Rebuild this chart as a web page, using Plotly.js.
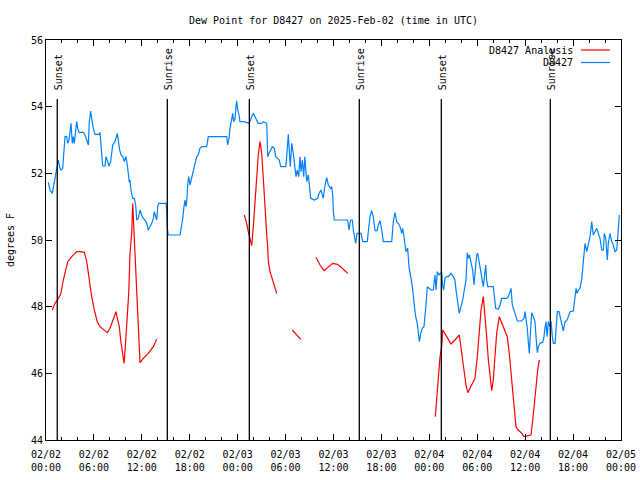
<!DOCTYPE html>
<html>
<head>
<meta charset="utf-8">
<script src="https://cdn.plot.ly/plotly-3.0.1.min.js"></script>
<style>html,body{margin:0;padding:0;background:#fff;}#chart{width:640px;height:480px;}</style>
</head>
<body>
<div id="chart"></div>
<script>
// Hours since 2025-02-02 00:00 UTC
const startUTC = Date.UTC(2025, 1, 2);

// D8427 observations
const obsHours = [0.29,0.50,0.79,1.00,1.13,1.34,1.54,1.75,1.88,2.09,2.25,2.38,2.59,2.72,2.88,3.01,3.13,3.29,3.42,3.54,3.72,3.84,3.97,4.13,4.67,4.88,5.10,5.30,5.42,5.60,5.72,5.92,6.14,6.67,6.76,6.89,6.97,7.10,7.39,7.51,7.73,7.89,8.10,8.23,8.35,8.64,8.77,8.93,9.05,9.18,9.39,9.60,9.80,10.02,10.18,10.31,10.43,10.52,10.64,10.86,11.06,11.23,11.36,11.56,11.77,11.98,12.18,12.40,12.61,12.81,13.02,13.24,13.44,13.56,13.74,13.86,13.99,14.11,15.03,15.11,15.19,15.31,16.78,16.99,17.12,17.28,17.41,17.53,17.62,17.74,17.87,18.03,18.24,18.44,18.66,18.87,19.07,19.28,19.50,20.12,20.32,22.63,22.75,22.92,23.04,23.25,23.38,23.50,23.67,23.79,23.88,24.00,24.17,24.29,24.83,25.33,25.54,25.76,25.96,26.17,26.38,26.58,27.01,27.21,27.64,27.76,27.92,28.09,28.34,28.59,28.76,29.01,29.21,29.39,30.02,30.14,30.27,30.34,30.47,30.59,30.77,30.93,31.05,31.18,31.31,31.47,31.64,31.81,31.93,32.10,32.27,32.40,32.52,32.65,32.85,32.97,33.15,33.60,34.02,34.19,34.44,34.60,34.72,34.94,35.15,35.35,35.65,35.77,35.90,35.98,36.10,37.78,37.94,38.15,38.36,38.48,38.61,38.78,38.94,39.19,39.44,39.66,40.23,40.36,40.57,40.78,40.98,41.20,41.45,41.61,41.82,42.04,42.24,43.29,43.49,43.70,43.91,44.11,44.33,44.54,44.67,44.79,44.95,45.08,45.29,45.45,45.71,45.87,46.12,46.29,46.49,46.62,46.75,46.92,47.12,47.33,47.46,47.58,47.75,47.96,48.17,48.50,48.71,48.84,49.00,49.21,49.38,49.55,49.68,49.80,49.96,50.18,50.38,50.71,51.00,51.21,51.34,51.55,51.75,51.97,52.18,52.38,52.59,52.75,52.88,53.01,53.22,53.43,53.59,53.72,53.93,54.06,54.22,54.43,54.63,54.76,54.88,55.06,55.18,55.31,56.01,56.14,56.31,56.64,56.85,57.06,57.69,57.89,58.11,58.23,58.39,58.64,58.82,59.02,59.57,59.86,59.98,60.11,60.27,60.39,60.52,60.64,60.82,61.02,61.23,61.36,61.52,61.65,61.86,62.20,62.36,62.49,62.61,62.74,62.90,63.08,63.24,63.40,63.53,63.74,63.86,64.03,64.24,64.45,64.65,64.78,64.99,65.20,65.40,65.62,66.03,66.24,66.37,66.49,66.66,66.87,67.08,67.28,67.50,67.71,67.91,68.12,68.25,68.33,68.53,68.75,68.96,69.16,69.37,69.59,69.79,69.91,70.09,70.29,70.41,70.63,70.84,71.04,71.25,71.47,71.67,71.79];
const obsValues = [51.73,51.5,51.4,51.65,51.85,52.15,52.4,52.15,52.1,52.15,52.85,53.1,53.1,52.9,53.0,53.35,53.5,52.9,53.1,52.9,53.35,53.55,53.35,53.23,53.23,53.15,53.0,52.85,53.55,53.87,53.65,53.35,53.17,53.17,53.23,52.85,52.5,52.22,52.22,52.5,52.35,52.22,52.35,52.65,52.85,52.95,53.1,53.2,53.0,52.75,52.55,52.5,52.35,52.5,52.25,51.85,51.73,51.8,51.5,51.25,51.25,51.05,50.6,50.65,50.9,50.75,50.65,50.6,50.5,50.3,50.4,50.5,50.65,50.85,50.7,50.6,51.0,51.1,51.1,50.9,50.35,50.15,50.15,50.4,50.65,51.0,51.2,51.0,51.15,51.65,51.9,51.65,51.85,52.1,52.3,52.5,52.55,52.75,52.8,52.8,53.1,53.1,52.85,53.05,53.35,53.6,53.8,53.55,53.65,54.0,54.17,53.9,53.75,53.55,53.55,53.5,53.55,53.7,53.8,53.7,53.6,53.5,53.5,53.55,53.5,52.5,52.6,52.7,52.8,52.75,52.5,52.45,52.4,52.2,52.2,52.5,52.9,53.17,52.65,52.2,52.9,52.7,52.45,52.15,51.9,52.1,51.9,52.5,52.05,52.4,51.9,52.5,52.15,51.75,51.95,51.55,51.25,51.2,51.25,51.4,51.5,51.35,51.25,51.65,51.87,51.65,51.55,51.6,51.35,50.85,50.6,50.6,50.3,50.6,50.6,50.3,50.1,49.9,50.2,50.2,50.2,49.95,49.95,50.25,50.7,50.88,50.7,50.28,50.28,50.45,50.58,50.3,49.95,49.95,50.55,50.82,50.55,50.5,50.4,50.2,50.35,50.15,49.85,49.65,49.75,49.2,48.85,48.6,48.05,47.7,47.5,47.25,46.95,47.2,47.35,47.4,47.65,48.05,48.6,48.55,48.5,48.5,48.95,48.5,49.05,48.95,49.02,49.05,48.6,48.5,48.85,48.9,48.9,49.0,48.9,48.8,48.5,48.2,47.8,48.0,48.2,48.5,48.8,49.62,49.45,49.55,49.35,49.1,48.65,49.1,49.55,49.6,49.35,49.05,48.85,48.6,48.85,49.25,48.8,48.6,48.6,48.2,47.95,47.92,48.05,48.25,48.25,48.3,48.5,48.55,48.05,47.85,47.7,47.57,47.57,47.65,47.85,47.65,47.35,46.95,46.6,47.15,47.82,47.7,47.55,47.1,46.62,46.8,46.9,46.93,47.1,47.38,47.55,47.1,47.55,47.4,47.57,47.1,46.9,46.9,47.3,47.85,47.85,47.65,47.45,47.27,47.55,47.58,47.7,47.85,47.87,48.2,48.55,48.4,48.5,48.55,48.82,49.35,49.9,49.65,49.85,50.1,50.35,50.55,50.15,50.25,50.35,50.2,50.05,49.7,49.7,50.2,50.05,49.4,49.9,50.2,49.95,49.85,49.65,49.7,50.45,50.75];

// D8427 Analysis (null = gap)
const anaHours = [0.79,1.13,1.54,1.84,2.17,2.47,2.72,3.22,3.84,4.26,4.80,5.10,5.42,5.72,6.05,6.42,6.76,7.18,7.68,8.01,8.43,8.77,8.93,9.18,9.35,9.55,9.77,9.89,10.02,10.18,10.36,10.52,10.73,10.86,11.02,11.18,11.36,11.52,11.77,12.18,12.81,13.44,13.86,
  20.0,
  24.83,25.13,25.33,25.54,25.76,25.96,26.17,26.38,26.58,26.80,27.01,27.21,27.42,27.64,27.76,27.84,28.05,28.46,28.89,
  30.0,
  30.84,31.90,
  33.0,
  33.81,34.31,34.81,35.35,35.90,36.48,36.90,37.32,37.78,
  43.0,
  48.75,48.92,49.12,49.34,49.55,49.68,50.18,50.71,51.21,51.75,52.06,52.34,52.59,52.81,53.22,53.72,54.01,54.26,54.47,54.76,54.97,55.18,55.39,55.60,55.81,56.01,56.22,56.43,56.76,57.06,57.48,57.76,58.01,58.23,58.44,58.64,58.85,59.14,59.57,59.86,60.39,60.73,60.95,61.15,61.36,61.57,61.77];
const anaValues = [47.9,48.1,48.25,48.37,48.8,49.1,49.35,49.5,49.65,49.65,49.63,49.35,48.8,48.3,47.9,47.55,47.4,47.33,47.22,47.35,47.65,47.85,47.65,47.4,47.0,46.65,46.3,46.65,47.2,47.8,48.4,49.6,50.2,51.1,50.2,49.6,48.4,47.2,46.32,46.45,46.6,46.8,47.02,
  null,
  50.75,50.5,50.25,50.05,49.83,50.4,51.15,51.95,52.55,52.95,52.6,51.85,50.85,50.15,49.8,49.35,49.05,48.7,48.4,
  null,
  47.3,47.02,
  null,
  49.48,49.25,49.08,49.2,49.3,49.27,49.2,49.1,49.0,
  null,
  44.7,45.2,45.85,46.5,46.8,47.3,47.1,46.88,47.0,47.15,46.6,46.0,45.65,45.42,45.6,45.85,46.5,47.2,47.9,48.3,47.75,47.1,46.4,46.0,45.48,45.8,46.5,47.2,47.7,47.5,47.25,47.1,46.6,46.0,45.4,44.9,44.4,44.3,44.2,44.1,44.12,44.15,44.6,45.1,45.7,46.1,46.4];

const sunEventHours = [1.41, 15.19, 25.46, 39.23, 49.50, 63.15];
const sunEventLabels = ["Sunset", "Sunrise", "Sunset", "Sunrise", "Sunset", "Sunrise"];

const seriesNames = ["D8427 Analysis", "D8427"];
const seriesColors = ["#ff0000", "#0080ff"];

function toDate(h) {
  const d = new Date(startUTC + Math.round(h * 3600000));
  return d.toISOString().slice(0, 19).replace('T', ' ');
}

const FONT = {family: "DejaVu Sans Mono, monospace", size: 10, color: "#000"};

const traces = [
  {x: anaHours.map(toDate), y: anaValues, type: 'scatter', mode: 'lines', name: seriesNames[0],
   line: {color: seriesColors[0], width: 1.2}, connectgaps: false, showlegend: false},
  {x: obsHours.map(toDate), y: obsValues, type: 'scatter', mode: 'lines', name: seriesNames[1],
   line: {color: seriesColors[1], width: 1.2}, showlegend: false}
];

const shapes = [];
const annotations = [];
sunEventHours.forEach((h, i) => {
  shapes.push({type: 'line', xref: 'x', yref: 'paper', x0: toDate(h), x1: toDate(h), y0: 0, y1: 0.8525,
    line: {color: '#000', width: 1.3}, layer: 'above'});
  annotations.push({xref: 'x', yref: 'paper', x: toDate(h + 0.12), y: 0.87, xanchor: 'center', yanchor: 'bottom',
    text: sunEventLabels[i], textangle: -90, showarrow: false, font: FONT});
});
// legend-style entries (text left, line sample right)
seriesNames.forEach((n, i) => {
  const yp = 1 - (10 + i * 12.5) / 400;
  annotations.push({xref: 'paper', yref: 'paper', x: (575 - 46) / 575, y: yp, xanchor: 'right', yanchor: 'middle',
    text: n, showarrow: false, font: FONT});
  shapes.push({type: 'line', xref: 'paper', yref: 'paper', x0: (581 - 46) / 575, x1: (610 - 46) / 575, y0: yp, y1: yp,
    line: {color: seriesColors[i], width: 1.2}});
});

const layout = {
  width: 640, height: 480,
  margin: {l: 46, r: 19, t: 40, b: 40, pad: 0},
  paper_bgcolor: '#fff', plot_bgcolor: '#fff',
  font: FONT,
  showlegend: false,
  title: {text: 'Dew Point for D8427 on 2025-Feb-02 (time in UTC)', font: FONT, xref: 'paper', x: 0.5, xanchor: 'center',
          yref: 'container', y: 1 - 20 / 480, yanchor: 'middle'},
  xaxis: {
    type: 'date', range: [toDate(0), toDate(72)],
    dtick: 6 * 3600000, tick0: toDate(0), tickformat: '%m/%d<br>%H:%M',
    ticks: 'inside', ticklen: 6, tickwidth: 1, tickcolor: '#000',
    minor: {dtick: 2 * 3600000, ticks: 'inside', ticklen: 3, tickcolor: '#000', showgrid: false},
    showline: true, linecolor: '#000', linewidth: 1, mirror: 'ticks',
    showgrid: false, zeroline: false, tickfont: FONT, ticklabelstandoff: 5
  },
  yaxis: {
    range: [44, 56], dtick: 2, tick0: 44,
    ticks: 'inside', ticklen: 6, tickwidth: 1, tickcolor: '#000',
    showline: true, linecolor: '#000', linewidth: 1, mirror: 'ticks',
    showgrid: false, zeroline: false, tickfont: FONT,
    title: {text: 'degrees F', font: FONT, standoff: 14}
  },
  shapes: shapes,
  annotations: annotations
};

Plotly.newPlot('chart', traces, layout, {staticPlot: true, displayModeBar: false});
</script>
</body>
</html>
